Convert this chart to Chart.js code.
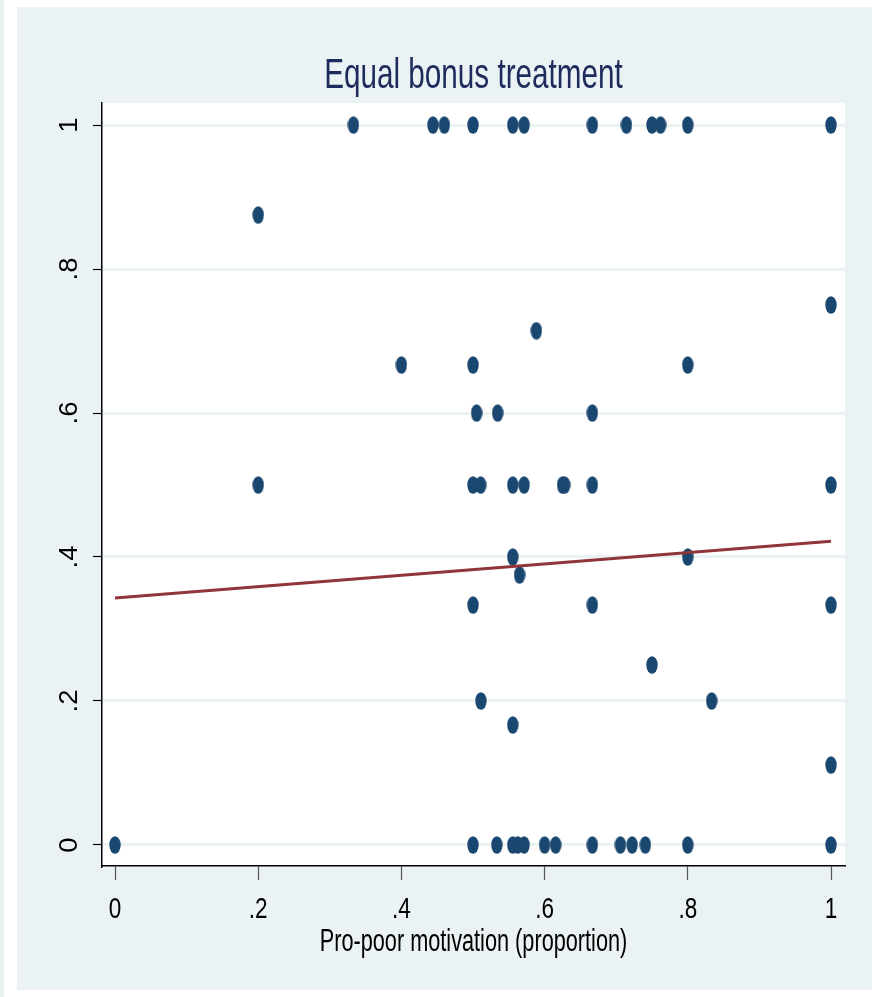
<!DOCTYPE html>
<html>
<head>
<meta charset="utf-8">
<script src="https://cdn.jsdelivr.net/npm/chart.js@4.4.1/dist/chart.umd.min.js"></script>
<style>
  html, body { margin: 0; padding: 0; background: #ffffff; }
  canvas { display: block; }
</style>
</head>
<body>
<canvas id="c" width="872" height="997"></canvas>
<script>
// Equal bonus treatment: share of pro-poor choices vs. pro-poor motivation
const chartTitle = 'Equal bonus treatment';
const xAxisTitle = 'Pro-poor motivation (proportion)';

// observations (x = motivation proportion, y = outcome proportion)
const motivation = [
  0.333, 0.444, 0.46, 0.5, 0.5556, 0.5714, 0.6667, 0.7143, 0.75, 0.7619, 0.8, 1.0,
  0.2,
  1.0,
  0.5885,
  0.4, 0.5, 0.8,
  0.505, 0.5344, 0.6667,
  0.2, 0.5, 0.5107, 0.5556, 0.5714, 0.625, 0.628, 0.6667, 1.0,
  0.5556, 0.8,
  0.565,
  0.5, 0.6667, 1.0,
  0.75,
  0.511, 0.8333,
  0.5556,
  1.0,
  0.0, 0.5, 0.5333, 0.5556, 0.5625, 0.5714, 0.6, 0.6154, 0.6667, 0.7059, 0.7222, 0.7407, 0.8, 1.0
];
const outcome = [
  1, 1, 1, 1, 1, 1, 1, 1, 1, 1, 1, 1,
  0.875,
  0.75,
  0.7143,
  0.6667, 0.6667, 0.6667,
  0.6, 0.6, 0.6,
  0.5, 0.5, 0.5, 0.5, 0.5, 0.5, 0.5, 0.5, 0.5,
  0.4, 0.4,
  0.375,
  0.3333, 0.3333, 0.3333,
  0.25,
  0.2, 0.2,
  0.1667,
  0.1111,
  0, 0, 0, 0, 0, 0, 0, 0, 0, 0, 0, 0, 0, 0
];

// fitted linear trend
const fitX = [0, 1];
const fitY = [0.343, 0.422];

// axis ticks
const xTickValues = [0, 0.2, 0.4, 0.6, 0.8, 1];
const xTickLabels = ['0', '.2', '.4', '.6', '.8', '1'];
const yTickValues = [0, 0.2, 0.4, 0.6, 0.8, 1];
const yTickLabels = ['0', '.2', '.4', '.6', '.8', '1'];

const NAVY = '#1a476f';
const MAROON = '#90353b';
const BG = '#eaf2f3';
const FONT = '"Liberation Sans", Arial, sans-serif';

// oval marker
const marker = document.createElement('canvas');
marker.width = 12; marker.height = 18;
(function () {
  const m = marker.getContext('2d');
  m.fillStyle = NAVY;
  m.beginPath();
  m.ellipse(6, 9, 5.7, 8.7, 0, 0, Math.PI * 2);
  m.fill();
})();

// narrow text: draws with a horizontal squeeze along the reading direction
function narrowText(ctx, text, x, y, size, squeeze, color, align, rotation) {
  ctx.save();
  ctx.translate(x, y);
  if (rotation) ctx.rotate(rotation);
  ctx.scale(squeeze, 1);
  ctx.font = size + 'px ' + FONT;
  ctx.fillStyle = color;
  ctx.textAlign = align;
  ctx.textBaseline = 'alphabetic';
  ctx.fillText(text, 0, 0);
  ctx.restore();
}

const frame = {
  id: 'frame',
  beforeDraw(chart) {
    const { ctx, chartArea: a } = chart;
    ctx.save();
    ctx.fillStyle = '#ffffff';
    ctx.fillRect(0, 0, chart.width, chart.height);
    ctx.fillStyle = BG;
    ctx.fillRect(0, 0, 4, chart.height);
    ctx.fillRect(17, 7, chart.width - 17, 983);
    ctx.fillStyle = '#ffffff';
    ctx.fillRect(a.left, a.top, a.right - a.left, a.bottom - a.top);
    ctx.restore();
  },
  afterDraw(chart) {
    const { ctx, chartArea: a, scales } = chart;
    const cx = (a.left + a.right) / 2;
    narrowText(ctx, chartTitle, cx, 88, 43, 0.69, '#1e2b5c', 'center', 0);
    narrowText(ctx, xAxisTitle, cx, 951, 31, 0.70, '#000', 'center', 0);
    xTickValues.forEach((v, i) => {
      narrowText(ctx, xTickLabels[i], scales.x.getPixelForValue(v), 918, 30, 0.75, '#000', 'center', 0);
    });
    yTickValues.forEach((v, i) => {
      narrowText(ctx, yTickLabels[i], 77, scales.y.getPixelForValue(v), 25, 1.1, '#000', 'center', -Math.PI / 2);
    });
  }
};

const points = motivation.map((x, i) => ({ x, y: outcome[i] }));
const fit = fitX.map((x, i) => ({ x, y: fitY[i] }));

new Chart(document.getElementById('c'), {
  type: 'scatter',
  data: {
    datasets: [
      {
        label: 'Fitted values',
        data: fit,
        showLine: true,
        borderColor: MAROON,
        borderWidth: 3,
        pointRadius: 0,
        fill: false
      },
      {
        label: 'Share',
        data: points,
        pointStyle: marker,
        pointRadius: 6,
        backgroundColor: NAVY,
        borderColor: NAVY
      }
    ]
  },
  options: {
    responsive: false,
    animation: false,
    devicePixelRatio: 1,
    layout: { padding: { left: 0, right: 27, top: 103, bottom: 0 } },
    plugins: { legend: { display: false }, title: { display: false }, tooltip: { enabled: false } },
    scales: {
      x: {
        type: 'linear',
        min: -0.01816,
        max: 1.01955,
        afterBuildTicks(s) { s.ticks = xTickValues.map(v => ({ value: v })); },
        afterFit(s) { s.height = 131; },
        ticks: { display: false },
        grid: { drawOnChartArea: false, drawTicks: true, tickLength: 14, tickColor: '#555', tickWidth: 1.2 },
        border: { display: true, color: '#000', width: 1.5 }
      },
      y: {
        type: 'linear',
        min: -0.02917,
        max: 1.03056,
        afterBuildTicks(s) { s.ticks = yTickValues.map(v => ({ value: v })); },
        afterFit(s) { s.width = 102; },
        ticks: { display: false },
        grid: { color: BG, lineWidth: 3, drawTicks: true, tickLength: 9, tickColor: '#000', tickWidth: 1.2 },
        border: { display: true, color: '#000', width: 1.5 }
      }
    }
  },
  plugins: [frame]
});
</script>
</body>
</html>
